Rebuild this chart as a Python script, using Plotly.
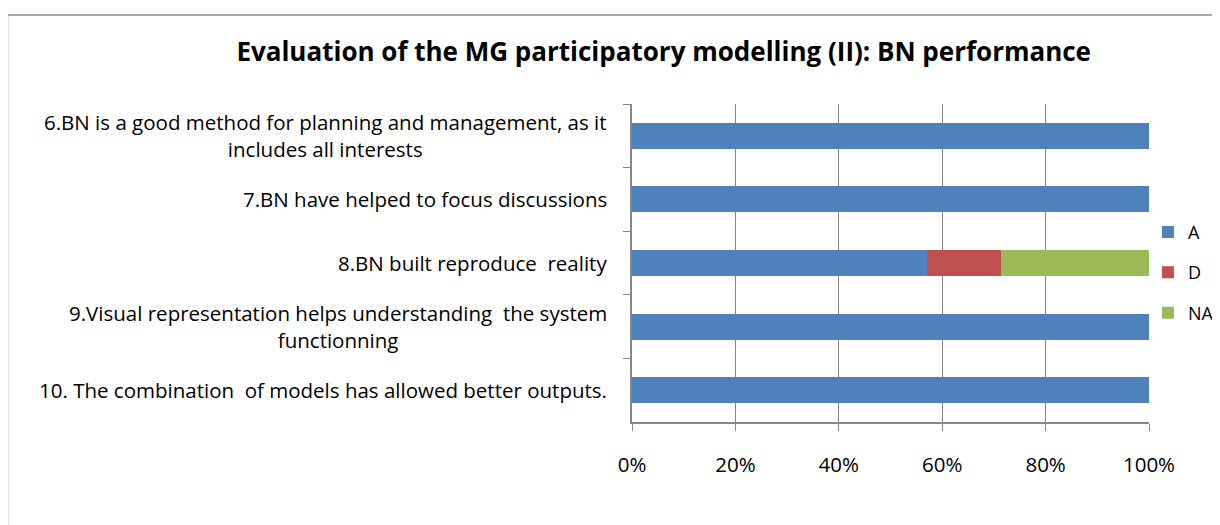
import plotly.graph_objects as go

categories = [
    "6.BN is a good method for planning and management, as it<br>includes all interests",
    "7.BN have helped to focus discussions",
    "8.BN built reproduce  reality",
    "9.Visual representation helps understanding  the system<br>functionning",
    "10. The combination  of models has allowed better outputs.",
]
series_names = ["A", "D", "NA"]
values_A = [100, 100, 57.14, 100, 100]
values_D = [0, 0, 14.29, 0, 0]
values_NA = [0, 0, 28.57, 0, 0]
colors = ["#4F81BD", "#C0504D", "#9BBB59"]
x_ticks = [0, 20, 40, 60, 80, 100]
x_ticklabels = ["0%", "20%", "40%", "60%", "80%", "100%"]
title = "Evaluation of the MG participatory modelling (II): BN performance"

FONT = "'Open Sans', sans-serif"

fig = go.Figure()
for name, vals, col in zip(series_names, [values_A, values_D, values_NA], colors):
    fig.add_trace(go.Bar(
        y=categories, x=vals, name=name, orientation="h",
        marker=dict(color=col, line=dict(width=0)),
        legendgroup=name,
    ))

for c in categories:
    fig.add_annotation(
        x=0, y=c, xref="paper", yref="y", text=c, showarrow=False,
        xanchor="right", yanchor="middle", align="center", xshift=-23,
        font=dict(family=FONT, size=20.5, color="#000000"),
    )

fig.update_layout(
    barmode="stack",
    bargap=0.59,
    width=1212, height=517,
    margin=dict(l=624, r=71, t=96, b=103, autoexpand=False),
    paper_bgcolor="white", plot_bgcolor="white",
    title=dict(text="<b>" + title + "</b>", x=0.541, xanchor="center", y=0.915, yanchor="middle",
               font=dict(family=FONT, size=26, color="#000000")),
    font=dict(family=FONT, size=18, color="#000000"),
    legend=dict(x=0.998, y=0.655, xanchor="left", yanchor="top", traceorder="grouped",
                tracegroupgap=14, font=dict(family=FONT, size=18, color="#000000"),
                itemwidth=30, bgcolor="rgba(0,0,0,0)"),
    xaxis=dict(range=[0, 100], tickvals=x_ticks, ticktext=x_ticklabels,
               showgrid=True, gridcolor="#868686", gridwidth=1,
               showline=True, linecolor="#868686", linewidth=1.5,
               ticks="outside", ticklen=7, tickcolor="#868686",
               ticklabelstandoff=17, zeroline=False,
               tickfont=dict(family=FONT, size=20.5, color="#000000")),
    yaxis=dict(autorange="reversed", showticklabels=False,
               showline=True, linecolor="#868686", linewidth=1.5,
               ticks="outside", ticklen=7, tickcolor="#868686", tickson="boundaries",
               showgrid=False),
    shapes=[dict(type="rect", xref="paper", yref="paper",
                 x0=-1.208, x1=1.2, y0=-0.4, y1=1.28,
                 line=dict(color="#8a8a8a", width=1.5), fillcolor="rgba(0,0,0,0)",
                 layer="below")],
)

fig.write_html("out.html")
